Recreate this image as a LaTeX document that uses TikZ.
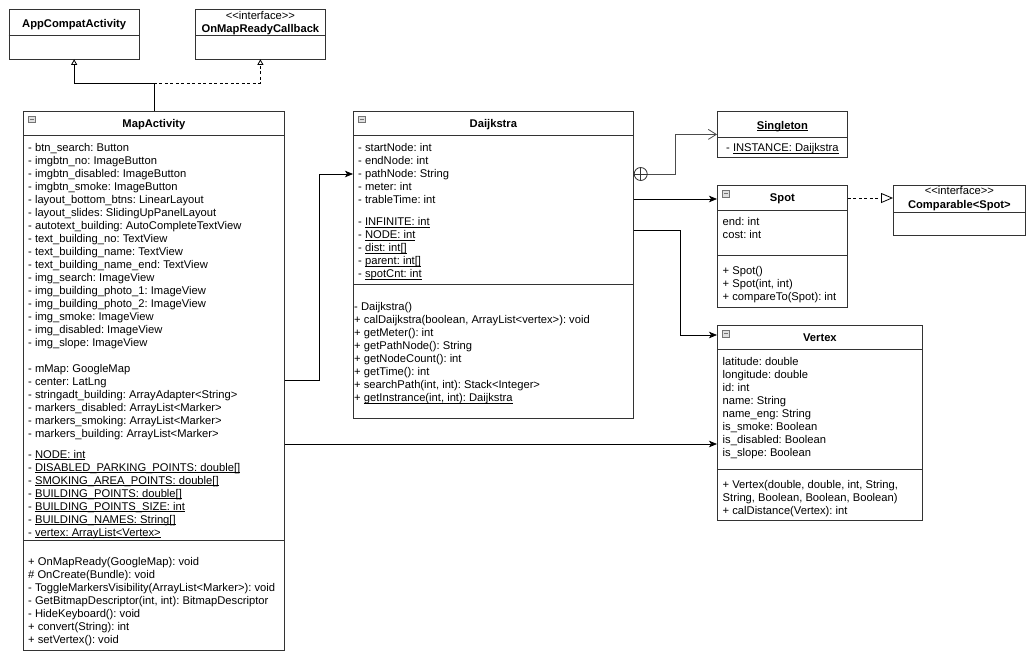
\documentclass[tikz,border=0pt]{standalone}
\usepackage{fontspec}
\setmainfont{Liberation Sans}
\usepackage{tikz}
\usetikzlibrary{arrows.meta,positioning}
\frenchspacing
\newsavebox{\ubox}
\newcommand{\umember}[1]{%
\sbox{\ubox}{#1}%
\rlap{\rule[-1.5pt]{\wd\ubox}{0.6pt}}\usebox{\ubox}%
}
\newcommand{\memberfont}{\fontsize{11.2}{13}\selectfont}
\newcommand{\titlefont}{\fontsize{11.2}{13}\selectfont\bfseries}
\newcommand{\stereo}[1]{<\kern0pt<#1>\kern0pt>}

\begin{document}
\begin{tikzpicture}[x=1pt,y=-1pt,
    classbox/.style={draw=black!80, line width=0.8pt, fill=white, anchor=north west, inner sep=0pt},
    divider/.style={draw=black!80, line width=0.8pt},
    classname/.style={font=\titlefont, anchor=base, inner sep=0pt},
    members/.style={font=\memberfont, align=left, anchor=north west, inner sep=0pt},
    assoc/.style={line width=0.8pt, -{Stealth[length=8pt,width=6.5pt,inset=2pt]}},
    extends/.style={line width=0.8pt, -{Triangle[open,length=5.5pt,width=6pt]}},
    implements/.style={extends, dash pattern=on 3pt off 2.5pt},
    realizes/.style={line width=0.8pt, dash pattern=on 3pt off 2.5pt, -{Triangle[open,length=12pt,width=10pt]}},
    nestline/.style={line width=0.8pt, draw=black!70, -{Straight Barb[length=8pt,width=10pt]}},
    icon/.style={draw=black!55, fill=black!12, line width=0.6pt}]
\useasboundingbox (0,0) rectangle (1035,662);

\node[classbox, minimum width=130.5, minimum height=50] (app) at (8.5,8.5) {};
\draw[divider] (app.west |- 0,35) -- (app.east |- 0,35);
\node[classname] at (app.north |- 0,27.3) {AppCompatActivity};

\node[classbox, minimum width=130, minimum height=50] (onmap) at (195,8.5) {};
\draw[divider] (onmap.west |- 0,35) -- (onmap.east |- 0,35);
\node[font=\memberfont, anchor=base, inner sep=0pt] at (onmap.north |- 0,19) {\stereo{interface}};
\node[classname] at (onmap.north |- 0,32.3) {OnMapReadyCallback};

\node[classbox, minimum width=261, minimum height=539.5] (map) at (23,110.5) {};
\draw[divider] (map.west |- 0,135.5) -- (map.east |- 0,135.5);
\draw[divider] (map.west |- 0,540) -- (map.east |- 0,540);
\node[classname] at (map.north |- 0,127.3) {MapActivity};
\node[members] (map-attr) at (28,143.5) {%
    - btn\_search: Button\\
    - imgbtn\_no: ImageButton\\
    - imgbtn\_disabled: ImageButton\\
    - imgbtn\_smoke: ImageButton\\
    - layout\_bottom\_btns: LinearLayout\\
    - layout\_slides: SlidingUpPanelLayout\\
    - autotext\_building: AutoCompleteTextView\\
    - text\_building\_no: TextView\\
    - text\_building\_name: TextView\\
    - text\_building\_name\_end: TextView\\
    - img\_search: ImageView\\
    - img\_building\_photo\_1: ImageView\\
    - img\_building\_photo\_2: ImageView\\
    - img\_smoke: ImageView\\
    - img\_disabled: ImageView\\
    - img\_slope: ImageView\\[13pt]
    - mMap: GoogleMap\\
    - center: LatLng\\
    - stringadt\_building: ArrayAdapter<String>\\
    - markers\_disabled: ArrayList<Marker>\\
    - markers\_smoking: ArrayList<Marker>\\
    - markers\_building: ArrayList<Marker>};
\node[members] (map-static) at (28,449.8) {%
    - \umember{NODE: int}\\
    - \umember{DISABLED\_PARKING\_POINTS: double[]}\\
    - \umember{SMOKING\_AREA\_POINTS: double[]}\\
    - \umember{BUILDING\_POINTS: double[]}\\
    - \umember{BUILDING\_POINTS\_SIZE: int}\\
    - \umember{BUILDING\_NAMES: String[]}\\
    - \umember{vertex: ArrayList<Vertex>}};
\node[members] (map-ops) at (28,557.5) {%
    + OnMapReady(GoogleMap): void\\
    \# OnCreate(Bundle): void\\
    - ToggleMarkersVisibility(ArrayList<Marker>): void\\
    - GetBitmapDescriptor(int, int): BitmapDescriptor\\
    - HideKeyboard(): void\\
    + convert(String): int\\
    + setVertex(): void};

\node[classbox, minimum width=280, minimum height=307] (dk) at (353,110.5) {};
\draw[divider] (dk.west |- 0,135) -- (dk.east |- 0,135);
\draw[divider] (dk.west |- 0,284) -- (dk.east |- 0,284);
\node[classname] at (dk.north |- 0,127.3) {Daijkstra};
\node[members] (dk-attr) at (358,143.5) {%
    - startNode: int\\
    - endNode: int\\
    - pathNode: String\\
    - meter: int\\
    - trableTime: int};
\node[members] (dk-static) at (358,217.5) {%
    - \umember{INFINITE: int}\\
    - \umember{NODE: int}\\
    - \umember{dist: int[]}\\
    - \umember{parent: int[]}\\
    - \umember{spotCnt: int}};
\node[members] (dk-ops) at (354,302.5) {%
    - Daijkstra()\\
    + calDaijkstra(boolean, ArrayList<vertex>): void\\
    + getMeter(): int\\
    + getPathNode(): String\\
    + getNodeCount(): int\\
    + getTime(): int\\
    + searchPath(int, int): Stack<Integer>\\
    + \umember{getInstrance(int, int): Daijkstra}};

\node[classbox, minimum width=130, minimum height=46] (single) at (717,111) {};
\draw[divider] (single.west |- 0,137) -- (single.east |- 0,137);
\node[classname] at (single.north |- 0,129) {\umember{Singleton}};
\node[font=\memberfont, anchor=base, inner sep=0pt] at (single.north |- 0,151.6) {- \umember{INSTANCE: Daijkstra}};

\node[classbox, minimum width=130, minimum height=122] (spot) at (717,185) {};
\draw[divider] (spot.west |- 0,210) -- (spot.east |- 0,210);
\draw[divider] (spot.west |- 0,255) -- (spot.east |- 0,255);
\node[classname] at (spot.north |- 0,201.3) {Spot};
\node[members] (spot-attr) at (722.5,217.5) {%
    end: int\\
    cost: int};
\node[members] (spot-ops) at (722.5,265.8) {%
    + Spot()\\
    + Spot(int, int)\\
    + compareTo(Spot): int};

\node[classbox, minimum width=132, minimum height=50] (comp) at (893,185) {};
\draw[divider] (comp.west |- 0,212) -- (comp.east |- 0,212);
\node[font=\memberfont, anchor=base, inner sep=0pt] at (comp.north |- 0,194) {\stereo{interface}};
\node[classname] at (comp.north |- 0,208.3) {Comparable<Spot>};

\node[classbox, minimum width=205, minimum height=195] (vtx) at (717,325) {};
\draw[divider] (vtx.west |- 0,349.5) -- (vtx.east |- 0,349.5);
\draw[divider] (vtx.west |- 0,469) -- (vtx.east |- 0,469);
\node[classname] at (vtx.north |- 0,341.3) {Vertex};
\node[members] (vtx-attr) at (722.5,357.5) {%
    latitude: double\\
    longitude: double\\
    id: int\\
    name: String\\
    name\_eng: String\\
    is\_smoke: Boolean\\
    is\_disabled: Boolean\\
    is\_slope: Boolean};
\node[members] (vtx-ops) at (722.5,480.1) {%
    + Vertex(double, double, int, String,\\
    String, Boolean, Boolean, Boolean)\\
    + calDistance(Vertex): int};

\foreach \c in {map,dk,spot,vtx} {
    \draw[icon] ([shift={(5.5,5.5)}]\c.north west) rectangle ++(6.5,6.5);
    \draw[icon] ([shift={(7,8.75)}]\c.north west) -- ++(3.5,0);
}

\draw[extends] (map.north) -- (map.north |- 0,83) -| (app.south);
\draw[implements] (map.north |- 0,83) -| (onmap.south);
\draw[assoc] (map.east |- 0,380) -- ++(35,0) |- (dk.west |- 0,174);
\draw[assoc] (map.east |- 0,444) -- (vtx.west |- 0,444);

\node[circle, draw=black!80, line width=0.8pt, minimum size=13pt, inner sep=0pt, anchor=west] (nest) at (dk.east |- 0,174) {};
\draw[black!80, line width=0.8pt] (nest.north) -- (nest.south) (nest.west) -- (nest.east);
\draw[nestline] (nest.east) -- ++(28,0) |- (single.west);
\draw[assoc] (dk.east |- 0,199) -- (spot.west |- 0,199);
\draw[assoc] (dk.east |- 0,230) -- ++(47,0) |- (vtx.west |- 0,335);
\draw[realizes] (spot.east |- 0,198) -- (comp.west |- 0,198);
\end{tikzpicture}
\end{document}
